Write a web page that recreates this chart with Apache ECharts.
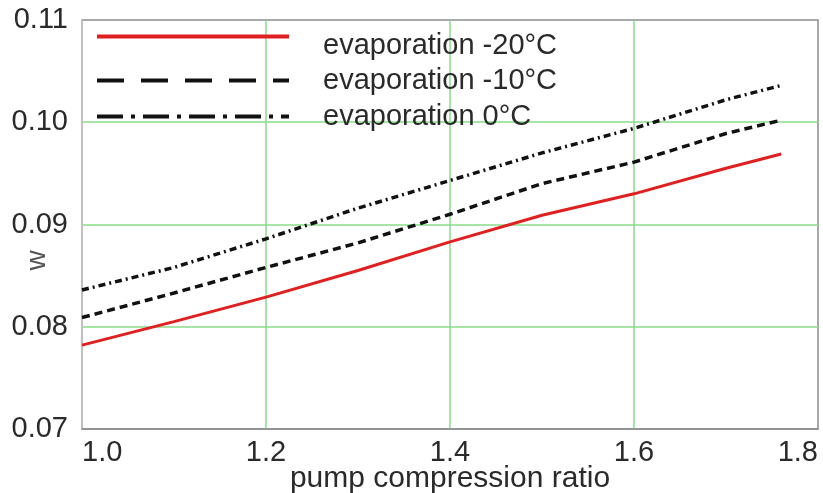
<!DOCTYPE html>
<html>
<head>
<meta charset="utf-8">
<script src="https://cdn.jsdelivr.net/npm/echarts@6/dist/echarts.min.js"></script>
<style>html,body{margin:0;padding:0;background:#fff}#c{width:823px;height:493px}</style>
</head>
<body>
<div id="c"></div>
<script>
const ratio = [1.0, 1.1, 1.2, 1.3, 1.4, 1.5, 1.6, 1.7, 1.76];
const evapMinus20 = [0.0782, 0.0805, 0.0829, 0.0855, 0.0883, 0.0909, 0.0930, 0.0955, 0.0969];
const evapMinus10 = [0.0809, 0.0833, 0.0858, 0.0882, 0.0910, 0.0940, 0.0961, 0.0989, 0.1002];
const evapZero = [0.0836, 0.0858, 0.0886, 0.0916, 0.0943, 0.0970, 0.0994, 0.1022, 0.1036];
const names = ['evaporation -20°C', 'evaporation -10°C', 'evaporation 0°C'];
const xTicks = [1.0, 1.2, 1.4, 1.6, 1.8];
const yTicks = [0.07, 0.08, 0.09, 0.10, 0.11];

const pair = (xs, ys) => xs.map((x, i) => [x, ys[i]]);
const txt = '#2a2a2a';
const font = 'Liberation Sans, Arial, sans-serif';

function makeLegend(name, top, lineStyle, padTop) {
  return {
    show: true,
    left: 95, top: top, padding: 0,
    itemWidth: 192, itemHeight: 14,
    selectedMode: false,
    data: [{ name: name, lineStyle: lineStyle, itemStyle: { color: 'rgba(0,0,0,0)', borderWidth: 0 } }],
    formatter: '{a|{name}}',
    textStyle: { fontSize: 29, fontFamily: font, color: txt,
      rich: { a: { fontSize: 29, fontFamily: font, color: txt, lineHeight: 32, padding: [padTop, 0, 0, 29] } } }
  };
}

const chart = echarts.init(document.getElementById('c'));
chart.setOption({
  animation: false,
  backgroundColor: '#fff',
  grid: { left: 82, right: 5, top: 20, bottom: 64, show: true, borderColor: '#8c8c8c', borderWidth: 1.5,
    containLabel: false, outerBoundsMode: 'none' },
  legend: [
    makeLegend(names[0], 13, { color: '#e02020', width: 4, type: 'solid' }, 18),
    makeLegend(names[1], 66, { color: '#111', width: 4, type: [27, 17] }, 0),
    makeLegend(names[2], 102, { color: '#111', width: 4, type: [26, 8, 4, 8] }, 0)
  ],
  xAxis: {
    type: 'value', min: xTicks[0], max: xTicks[xTicks.length - 1], interval: 0.2,
    name: 'pump compression ratio', nameLocation: 'middle', nameGap: 35, nameMoveOverlap: false,
    nameTextStyle: { fontSize: 30, fontFamily: font, color: txt },
    axisLine: { show: true, lineStyle: { color: '#8c8c8c', width: 1.5 } },
    axisTick: { show: false },
    axisLabel: { fontSize: 29, fontFamily: font, color: txt, margin: 9, alignMinLabel: 'left', alignMaxLabel: 'right',
      formatter: v => v.toFixed(1) },
    splitLine: { show: true, showMinLine: false, showMaxLine: false, lineStyle: { color: '#88dd88', width: 1.5 } }
  },
  yAxis: {
    type: 'value', min: yTicks[0], max: yTicks[yTicks.length - 1], interval: 0.01,
    name: 'w', nameLocation: 'middle', nameGap: 31, nameRotate: 90, nameMoveOverlap: false,
    nameTextStyle: { fontSize: 28, fontFamily: font, color: '#555', padding: [0, 72, 0, 0] },
    axisLine: { show: true, lineStyle: { color: '#c8c8c8', width: 1.5 } },
    axisTick: { show: false },
    axisLabel: { fontSize: 29, fontFamily: font, color: txt, margin: 14, formatter: v => v.toFixed(2) },
    splitLine: { show: true, showMinLine: false, showMaxLine: false, lineStyle: { color: '#88dd88', width: 1.5 } }
  },
  series: [
    { name: names[0], type: 'line', symbol: 'none', data: pair(ratio, evapMinus20),
      lineStyle: { color: '#e02020', width: 3 }, itemStyle: { color: '#e02020' } },
    { name: names[1], type: 'line', symbol: 'none', data: pair(ratio, evapMinus10),
      lineStyle: { color: '#111', width: 3.5, type: [8, 5] }, itemStyle: { color: '#111' } },
    { name: names[2], type: 'line', symbol: 'none', data: pair(ratio, evapZero),
      lineStyle: { color: '#111', width: 3.5, type: [7, 4, 2, 4] }, itemStyle: { color: '#111' } }
  ]
});
</script>
</body>
</html>
